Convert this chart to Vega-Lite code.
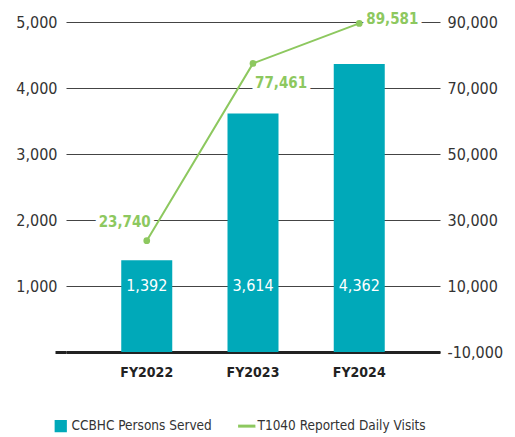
{
  "$schema": "https://vega.github.io/schema/vega-lite/v6.json",
  "width": 374,
  "height": 330,
  "autosize": {"type": "none"},
  "padding": {"left": 66, "top": 22, "right": 75, "bottom": 85},
  "background": "white",
  "config": {
    "font": "DejaVu Sans Condensed, Roboto, sans-serif",
    "view": {"stroke": null}
  },
  "data": {
    "values": [
      {"year": "FY2022", "served": 1392, "visits": 23740},
      {"year": "FY2023", "served": 3614, "visits": 77461},
      {"year": "FY2024", "served": 4362, "visits": 89581}
    ]
  },
  "encoding": {
    "x": {
      "field": "year",
      "type": "nominal",
      "scale": {"paddingInner": 0.52, "paddingOuter": 0.52},
      "axis": {
        "title": null,
        "labelAngle": 0,
        "labelFontWeight": "bold",
        "labelFontSize": 14,
        "labelColor": "#222",
        "labelPadding": 13,
        "ticks": false,
        "domainColor": "#222",
        "domainWidth": 3,
        "grid": false
      }
    }
  },
  "layer": [
    {
      "layer": [
        {
          "mark": {"type": "bar", "color": "#00a9b9"},
          "encoding": {
            "y": {
              "field": "served",
              "type": "quantitative",
              "scale": {"domain": [0, 5000], "nice": false},
              "axis": {
                "orient": "left",
                "title": null,
                "values": [0, 1000, 2000, 3000, 4000, 5000],
                "labelExpr": "datum.value === 0 ? '' : datum.label",
                "format": ",d",
                "grid": true,
                "gridColor": "#444",
                "gridWidth": 1,
                "domain": false,
                "ticks": true,
                "tickSize": 11,
                "tickWidth": 3,
                "tickColor": {"condition": {"test": "datum.value === 0", "value": "#222"}, "value": "transparent"},
                "labelPadding": -2,
                "labelFontSize": 16,
                "labelColor": "#333"
              }
            },
            "color": {
              "datum": "CCBHC Persons Served",
              "type": "nominal",
              "scale": {
                "domain": ["CCBHC Persons Served", "T1040 Reported Daily Visits"],
                "range": ["#00a9b9", "#8dc85f"]
              },
              "legend": {
                "title": null,
                "orient": "none",
                "direction": "horizontal",
                "legendX": -12,
                "legendY": 397,
                "labelFontSize": 13.5,
                "labelLimit": 400,
                "labelColor": "#333",
                "labelOffset": 4,
                "columnPadding": 20,
                "symbolSize": 150,
                "encode": {
                  "symbols": {
                    "update": {
                      "shape": {"signal": "datum.value === 'CCBHC Persons Served' ? 'square' : 'stroke'"},
                      "size": {"signal": "datum.value === 'CCBHC Persons Served' ? 150 : 300"},
                      "fill": {"signal": "datum.value === 'CCBHC Persons Served' ? '#00a9b9' : 'transparent'"},
                      "stroke": {"signal": "datum.value === 'CCBHC Persons Served' ? 'transparent' : '#8dc85f'"},
                      "strokeWidth": {"signal": "datum.value === 'CCBHC Persons Served' ? 0 : 3"},
                      "opacity": {"value": 1}
                    }
                  }
                }
              }
            }
          }
        },
        {
          "mark": {"type": "text", "color": "white", "fontSize": 16, "baseline": "middle"},
          "encoding": {
            "y": {"datum": 1000, "type": "quantitative"},
            "text": {"field": "served", "type": "quantitative", "format": ","}
          }
        }
      ]
    },
    {
      "layer": [
        {
          "transform": [{"filter": "datum.year === 'FY2024'"}],
          "mark": {"type": "text", "stroke": "white", "strokeWidth": 8, "color": "white", "fontSize": 15, "fontWeight": "bold", "align": "left", "baseline": "middle", "dx": 7, "dy": -4},
          "encoding": {"y": {"field": "visits", "type": "quantitative"}, "text": {"field": "visits", "type": "quantitative", "format": ","}}
        },
        {
          "transform": [{"filter": "datum.year === 'FY2023'"}],
          "mark": {"type": "text", "stroke": "white", "strokeWidth": 8, "color": "white", "fontSize": 15, "fontWeight": "bold", "align": "left", "baseline": "middle", "dx": 2, "dy": 20},
          "encoding": {"y": {"field": "visits", "type": "quantitative"}, "text": {"field": "visits", "type": "quantitative", "format": ","}}
        },
        {
          "transform": [{"filter": "datum.year === 'FY2022'"}],
          "mark": {"type": "text", "stroke": "white", "strokeWidth": 8, "color": "white", "fontSize": 15, "fontWeight": "bold", "align": "right", "baseline": "middle", "dx": 4, "dy": -19},
          "encoding": {"y": {"field": "visits", "type": "quantitative"}, "text": {"field": "visits", "type": "quantitative", "format": ","}}
        },
        {
          "mark": {"type": "line", "strokeWidth": 2, "point": {"filled": true, "size": 45, "color": "#8dc85f"}},
          "encoding": {
            "y": {
              "field": "visits",
              "type": "quantitative",
              "scale": {"domain": [-10000, 90000], "nice": false},
              "axis": {
                "orient": "right",
                "title": null,
                "values": [-10000, 10000, 30000, 50000, 70000, 90000],
                "format": ",d",
                "labelExpr": "replace(datum.label, '\u2212', '-')",
                "grid": false,
                "domain": false,
                "ticks": false,
                "labelPadding": 7,
                "labelFontSize": 16,
                "labelColor": "#333"
              }
            },
            "color": {"datum": "T1040 Reported Daily Visits", "type": "nominal"}
          }
        },
        {
          "transform": [{"filter": "datum.year === 'FY2024'"}],
          "mark": {"type": "text", "color": "#8dc85f", "fontSize": 15, "fontWeight": "bold", "align": "left", "baseline": "middle", "dx": 7, "dy": -4},
          "encoding": {"y": {"field": "visits", "type": "quantitative"}, "text": {"field": "visits", "type": "quantitative", "format": ","}}
        },
        {
          "transform": [{"filter": "datum.year === 'FY2023'"}],
          "mark": {"type": "text", "color": "#8dc85f", "fontSize": 15, "fontWeight": "bold", "align": "left", "baseline": "middle", "dx": 2, "dy": 20},
          "encoding": {"y": {"field": "visits", "type": "quantitative"}, "text": {"field": "visits", "type": "quantitative", "format": ","}}
        },
        {
          "transform": [{"filter": "datum.year === 'FY2022'"}],
          "mark": {"type": "text", "color": "#8dc85f", "fontSize": 15, "fontWeight": "bold", "align": "right", "baseline": "middle", "dx": 4, "dy": -19},
          "encoding": {"y": {"field": "visits", "type": "quantitative"}, "text": {"field": "visits", "type": "quantitative", "format": ","}}
        }
      ]
    }
  ],
  "resolve": {"scale": {"y": "independent"}}
}
